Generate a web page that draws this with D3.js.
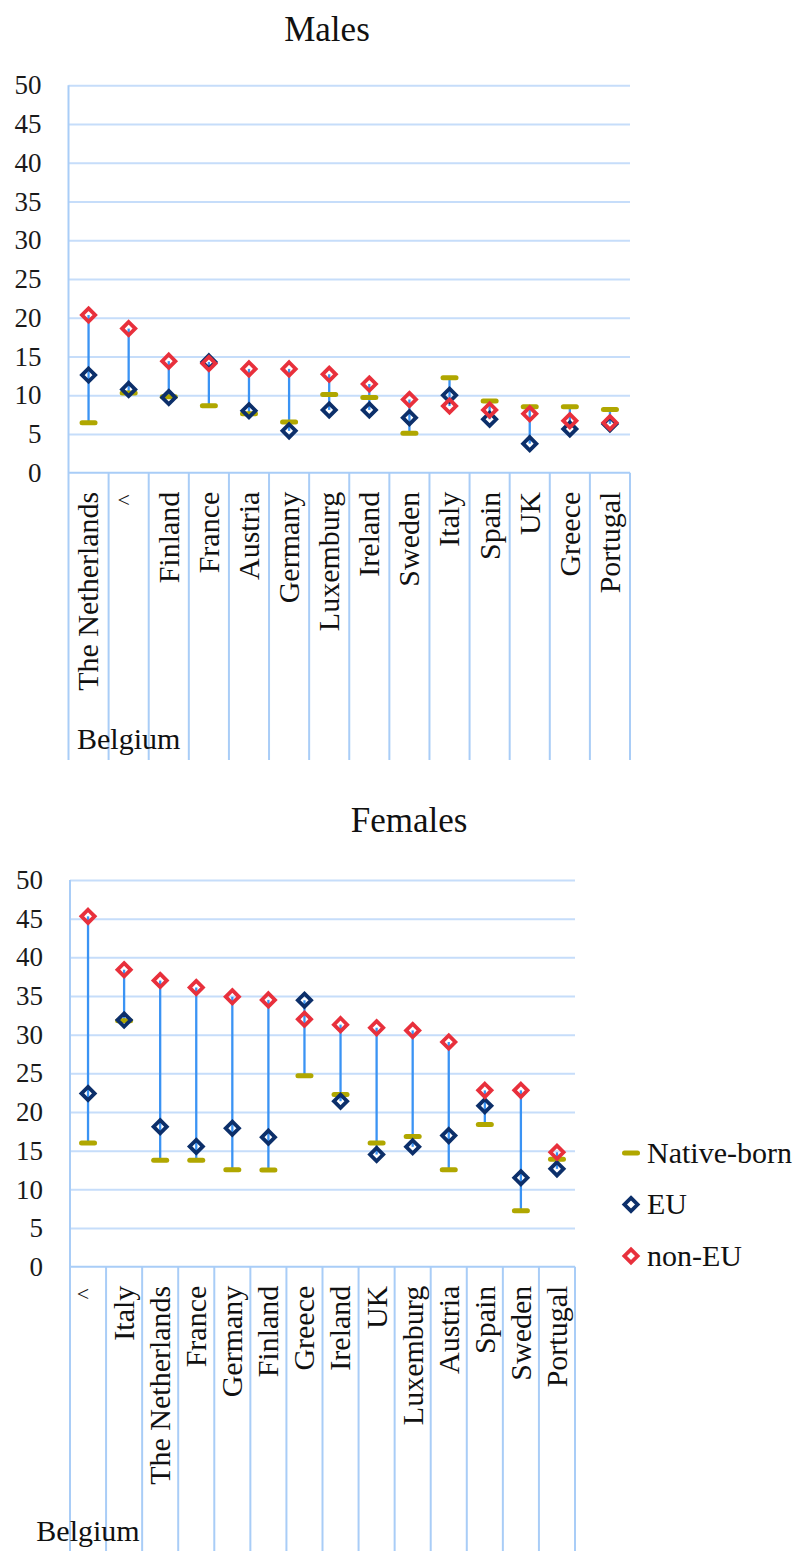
<!DOCTYPE html>
<html>
  <head>
    <meta charset="utf-8">
    <title>Males and females, native-born, EU and non-EU</title>
    <script src="https://d3js.org/d3.v7.min.js"></script>
    <style>
      body { margin: 0; background: #fff; }
      svg { display: block; }
      .grid line { stroke: #c6ddfa; stroke-width: 2; }
      .sep { stroke: #a9cdf7; stroke-width: 2; }
    </style>
  </head>
  <body>
    <svg id="chart" width="801" height="1551"></svg>
    <script>
      // data (percent)
      maleLabels = ["The Netherlands", "<", "Finland", "France", "Austria", "Germany", "Luxemburg",
        "Ireland", "Sweden", "Italy", "Spain", "UK", "Greece", "Portugal"];
      maleNative = [6.45, 10.3, 9.8, 8.65, 7.6, 6.55, 10.1, 9.7, 5.1, 12.25, 9.25, 8.5, 8.5, 8.15];
      maleEU     = [12.6, 10.75, 9.7, 14.3, 8.0, 5.4, 8.1, 8.1, 7.1, 10.0, 6.9, 3.75, 5.65, 6.3];
      maleNonEU  = [20.35, 18.6, 14.4, 14.1, 13.4, 13.4, 12.7, 11.45, 9.45, 8.6, 8.1, 7.6, 6.7, 6.45];

      femaleLabels = ["<", "Italy", "The Netherlands", "France", "Germany", "Finland", "Greece",
        "Ireland", "UK", "Luxemburg", "Austria", "Spain", "Sweden", "Portugal"];
      femaleNative = [16.0, 31.8, 13.75, 13.75, 12.55, 12.5, 24.7, 22.25, 16.0, 16.85, 12.55, 18.4, 7.25, 13.9];
      femaleEU     = [22.4, 31.9, 18.1, 15.55, 17.9, 16.75, 34.45, 21.4, 14.5, 15.5, 16.95, 20.8, 11.5, 12.65];
      femaleNonEU  = [45.3, 38.4, 37.0, 36.1, 34.9, 34.5, 32.0, 31.3, 30.9, 30.55, 29.05, 22.8, 22.8, 14.8];

      groupLabel = "Belgium";
      yTicks = [0, 5, 10, 15, 20, 25, 30, 35, 40, 45, 50];
      seriesNames = ["Native-born", "EU", "non-EU"];

      colors = { native: "#b0a700", eu: "#0c2f6a", nonEu: "#e8303c", line: "#3a93f4" };
      serif = "'Liberation Serif', 'DejaVu Serif', 'Times New Roman', serif";

      svg = d3.select("#chart");

      function diamond(sel, color) {
        sel.append("path")
          .attr("d", "M0,-6.6L6.6,0L0,6.6L-6.6,0Z")
          .attr("fill", "none")
          .attr("stroke", color)
          .attr("stroke-width", 3.8)
          .attr("stroke-linejoin", "miter");
      }

      function dash(sel) {
        sel.append("line")
          .attr("x1", -6.5).attr("x2", 6.5)
          .attr("stroke", colors.native)
          .attr("stroke-width", 5)
          .attr("stroke-linecap", "round");
      }

      function drawPanel(p) {
        var g = svg.append("g");
        var idx = d3.range(p.labels.length);
        var x = d3.scaleBand().domain(idx).range([p.x0, p.x1]);
        var y = d3.scaleLinear().domain([0, 50]).range([p.yBottom, p.yTop]);
        var cx = function(i) { return x(i) + x.bandwidth() / 2; };

        // title
        g.append("text")
          .attr("x", p.titleX).attr("y", p.titleY)
          .attr("text-anchor", "middle")
          .style("font-family", serif)
          .style("font-size", "35px")
          .attr("fill", "#111")
          .text(p.title);

        // horizontal gridlines
        g.append("g")
          .attr("class", "grid")
          .attr("transform", "translate(" + p.x0 + ",0)")
          .call(d3.axisLeft(y).tickValues(yTicks.slice(1)).tickSize(-(p.x1 - p.x0)).tickFormat(""))
          .call(function(s) { s.select(".domain").remove(); });

        // y tick labels
        g.append("g")
          .attr("transform", "translate(" + (p.x0 - 27) + ",0)")
          .call(d3.axisLeft(y).tickValues(yTicks).tickSize(0).tickPadding(0))
          .call(function(s) { s.select(".domain").remove(); })
          .selectAll("text")
            .attr("fill", "#1a1a1a")
            .style("font-family", serif)
            .style("font-size", "27px");

        // category separators and axes
        var edges = idx.map(function(d) { return x(d); }).concat([p.x1]);
        g.selectAll(".sep")
          .data(edges)
          .enter().append("line")
            .attr("class", "sep")
            .attr("x1", function(d) { return d; })
            .attr("x2", function(d) { return d; })
            .attr("y1", function(d, i) { return i == 0 ? p.yTop : p.yBottom; })
            .attr("y2", p.sepBottom);
        g.append("line")
          .attr("class", "sep")
          .attr("x1", p.x0).attr("x2", p.x1)
          .attr("y1", p.yBottom).attr("y2", p.yBottom);

        // category labels (the short "<" mark is shown upright, as in the original)
        g.selectAll(".cat")
          .data(p.labels)
          .enter().append("text")
            .attr("class", "cat")
            .attr("transform", function(d, i) {
              if (d.length == 1) return "translate(" + (cx(i) - 5) + "," + (p.yBottom + 27) + ")";
              return "translate(" + cx(i) + "," + (p.yBottom + 19) + ") rotate(-90)";
            })
            .attr("dy", "0.33em")
            .attr("text-anchor", function(d) { return d.length == 1 ? "middle" : "end"; })
            .style("font-family", serif)
            .style("font-size", function(d) { return d.length == 1 ? "22px" : "30px"; })
            .attr("fill", "#111")
            .text(function(d) { return d; });

        g.append("text")
          .attr("x", cx(p.groupIndex))
          .attr("y", p.groupBaseline)
          .attr("text-anchor", "middle")
          .style("font-family", serif)
          .style("font-size", "30px")
          .attr("fill", "#111")
          .text(groupLabel);

        // high-low lines
        g.selectAll(".hilo")
          .data(idx)
          .enter().append("line")
            .attr("x1", cx)
            .attr("x2", cx)
            .attr("y1", function(i) { return y(d3.max([p.native[i], p.eu[i], p.nonEu[i]])); })
            .attr("y2", function(i) { return y(d3.min([p.native[i], p.eu[i], p.nonEu[i]])); })
            .attr("stroke", colors.line)
            .attr("stroke-width", 2.3);

        // markers
        function pt(i, v) { return "translate(" + cx(i) + "," + y(v) + ")"; }
        g.selectAll(".nat").data(idx).enter().append("g")
          .attr("transform", function(i) { return pt(i, p.native[i]); })
          .each(function() { dash(d3.select(this)); });
        g.selectAll(".eu").data(idx).enter().append("g")
          .attr("transform", function(i) { return pt(i, p.eu[i]); })
          .each(function() { diamond(d3.select(this), colors.eu); });
        g.selectAll(".noneu").data(idx).enter().append("g")
          .attr("transform", function(i) { return pt(i, p.nonEu[i]); })
          .each(function() { diamond(d3.select(this), colors.nonEu); });
      }

      drawPanel({
        title: "Males", titleX: 327, titleY: 41,
        labels: maleLabels, native: maleNative, eu: maleEU, nonEu: maleNonEU,
        x0: 68.5, x1: 630, yTop: 85.3, yBottom: 472.7, sepBottom: 760,
        groupIndex: 1, groupBaseline: 749
      });

      drawPanel({
        title: "Females", titleX: 409, titleY: 832,
        labels: femaleLabels, native: femaleNative, eu: femaleEU, nonEu: femaleNonEU,
        x0: 70, x1: 575, yTop: 880, yBottom: 1266.7, sepBottom: 1551,
        groupIndex: 0, groupBaseline: 1541
      });

      // legend
      legend = svg.append("g").attr("transform", "translate(631,1153)");
      legendItems = legend.selectAll("g")
        .data(seriesNames)
        .enter().append("g")
          .attr("transform", function(d, i) { return "translate(0," + (i * 51.5) + ")"; });
      legendItems.each(function(d, i) {
        var s = d3.select(this);
        if (i == 0) dash(s);
        else diamond(s, i == 1 ? colors.eu : colors.nonEu);
        s.append("text")
          .attr("x", 16)
          .attr("dy", "0.32em")
          .style("font-family", serif)
          .style("font-size", "30px")
          .attr("fill", "#111")
          .text(d);
      });
    </script>
  </body>
</html>
